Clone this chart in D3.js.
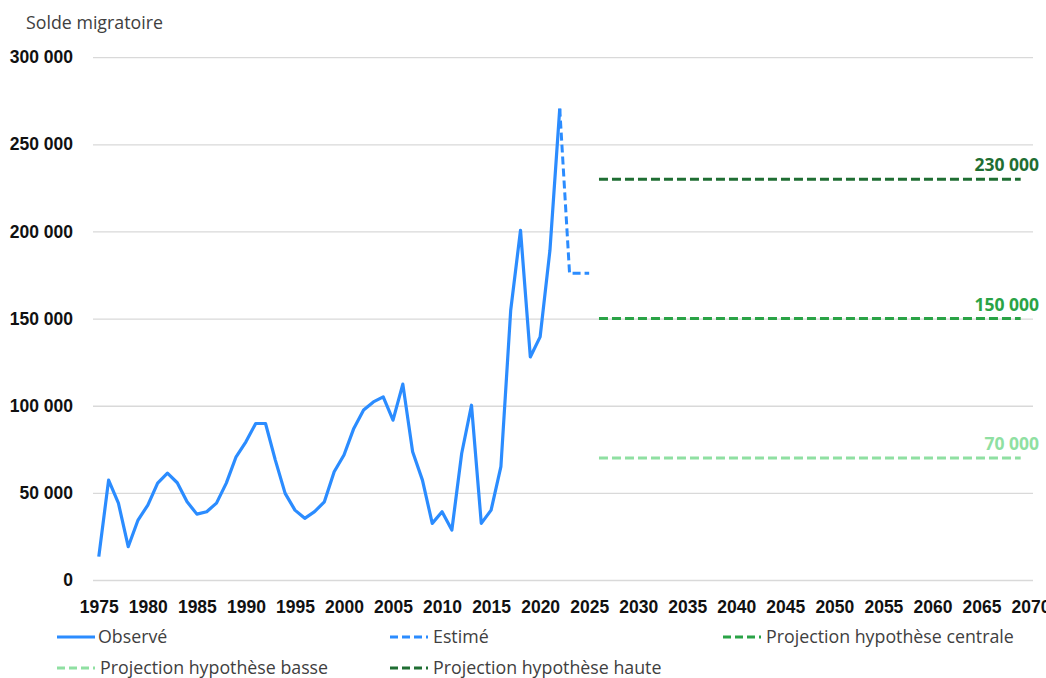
<!DOCTYPE html>
<html>
<head>
<meta charset="utf-8">
<script src="https://cdn.jsdelivr.net/npm/d3@7"></script>
<style>
  body { margin: 0; background: #fff; }
  svg { font-family: "Open Sans", sans-serif; }
  .tick-label { font-weight: bold; font-size: 17.5px; fill: #111; }
  .legend-text { font-size: 17.8px; fill: #404040; }
</style>
</head>
<body>
<div id="chart"></div>
<script>
// Observed yearly values, 1975-2022.
var obsYears = d3.range(1975, 2023);
var obsValues = [13400, 57300, 44100, 19100, 34400, 43000, 55600, 61300, 55800, 44900,
                 37800, 39200, 44100, 55600, 70700, 79300, 89800, 89800, 68800, 49700,
                 40100, 35400, 39200, 44900, 62100, 71700, 87000, 97500, 102200, 105100,
                 91700, 112400, 73600, 57300, 32500, 39200, 28700, 72600, 100300, 32500,
                 40100, 65000, 154800, 200700, 128000, 139500, 189200, 270500];

// Estimated values, 2022-2025.
var estYears = [2022, 2023, 2024, 2025];
var estValues = [270500, 176000, 176000, 176000];

// Projection hypotheses, flat over the projection years.
var projYears = [2026, 2069];
var projNames = ['Projection hypothèse basse', 'Projection hypothèse centrale', 'Projection hypothèse haute'];
var projValues = [70000, 150000, 230000];
var projColors = ['#8fe0a2', '#2aa346', '#1f6e33'];

var xTicks = d3.range(1975, 2071, 5);
var yTicks = [0, 50000, 100000, 150000, 200000, 250000, 300000];

var width = 1046, height = 678;
var blue = '#2b8cff';

var svg = d3.select('#chart')
            .append('svg')
            .attr('width', width)
            .attr('height', height);

var x = d3.scaleLinear().domain([1975, 2070]).range([98.8, 1030.5]);
var y = d3.scaleLinear().domain([0, 300000]).range([580, 57.2]);

var fmt = function(v) { return d3.format(',')(v).replace(/,/g, ' '); };

// Title.
svg.append('text')
   .attr('class', 'legend-text')
   .attr('x', 26)
   .attr('y', 29)
   .text('Solde migratoire');

// Gridlines and y labels.
var yAxis = d3.axisLeft(y).tickValues(yTicks).tickSize(-940).tickFormat(fmt).tickPadding(20);
var gy = svg.append('g').attr('transform', 'translate(93,0)').call(yAxis);
gy.select('.domain').remove();
gy.selectAll('.tick line').attr('stroke', '#d9d9d9').attr('stroke-width', 1.3);
gy.selectAll('.tick text').attr('class', 'tick-label').attr('text-anchor', 'end');

// X labels (the last one runs off the right edge, as in the source).
var xAxis = d3.axisBottom(x).tickValues(xTicks).tickSize(0).tickFormat(d3.format('d')).tickPadding(21);
var gx = svg.append('g').attr('transform', 'translate(0,580)').call(xAxis);
gx.select('.domain').remove();
gx.selectAll('.tick text').attr('class', 'tick-label');

var line = d3.line()
             .x(function(d) { return x(d[0]); })
             .y(function(d) { return y(d[1]); });

// Observed.
svg.append('path')
   .datum(d3.zip(obsYears, obsValues))
   .attr('d', line)
   .attr('fill', 'none')
   .attr('stroke', blue)
   .attr('stroke-width', 3.2)
   .attr('stroke-linejoin', 'round');

// Estimated.
svg.append('path')
   .datum(d3.zip(estYears, estValues))
   .attr('d', line)
   .attr('fill', 'none')
   .attr('stroke', blue)
   .attr('stroke-width', 3)
   .attr('stroke-dasharray', '8,4');

// Projections with their value labels.
projValues.forEach(function(v, i) {
  svg.append('path')
     .datum(projYears.map(function(yr) { return [yr, v]; }))
     .attr('d', line)
     .attr('fill', 'none')
     .attr('stroke', projColors[i])
     .attr('stroke-width', 3)
     .attr('stroke-dasharray', '9,4');

  svg.append('text')
     .attr('x', 1039)
     .attr('y', y(v) - 8)
     .attr('text-anchor', 'end')
     .attr('font-size', 17.5)
     .attr('font-weight', 'bold')
     .attr('fill', projColors[i])
     .text(fmt(v));
});

// Legend.
var legend = [
  {name: 'Observé', color: blue, dash: null, x: 57, y: 637},
  {name: 'Estimé', color: blue, dash: '8,4', x: 390, y: 637},
  {name: projNames[1], color: projColors[1], dash: '8,4', x: 723, y: 637},
  {name: projNames[0], color: projColors[0], dash: '8,4', x: 57, y: 668},
  {name: projNames[2], color: projColors[2], dash: '8,4', x: 390, y: 668}
];

var items = svg.selectAll('.legend-item')
               .data(legend)
               .enter()
               .append('g')
               .attr('class', 'legend-item')
               .attr('transform', function(d) { return 'translate(' + d.x + ',' + d.y + ')'; });

items.append('line')
     .attr('x1', 0)
     .attr('x2', 38)
     .attr('stroke', function(d) { return d.color; })
     .attr('stroke-width', 3)
     .attr('stroke-dasharray', function(d) { return d.dash; });

items.append('text')
     .attr('class', 'legend-text')
     .attr('x', function(d) { return d.dash ? 43 : 41; })
     .attr('dy', '0.35em')
     .text(function(d) { return d.name; });
</script>
</body>
</html>
